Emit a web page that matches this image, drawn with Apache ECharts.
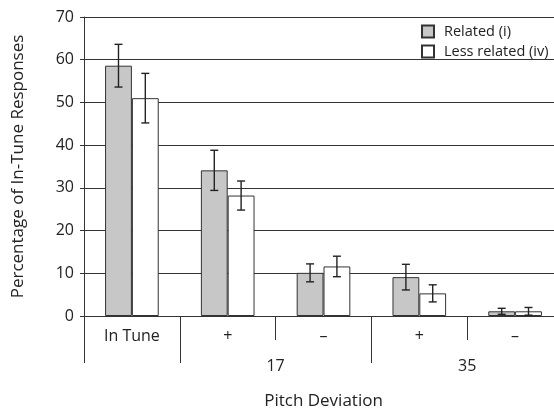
<!DOCTYPE html>
<html>
<head>
<meta charset="utf-8">
<script src="https://cdn.jsdelivr.net/npm/echarts@6/dist/echarts.min.js"></script>
<style>
html,body{margin:0;padding:0;background:#fff;}
#main{width:554px;height:413px;}
</style>
</head>
<body>
<div id="main"></div>
<script>
var categories = ['In Tune', '+', '\u2013', '+', '\u2013'];
var groupLabels = ['', '', '17', '', '35', ''];
var related = [58.6, 34.1, 10.1, 9.1, 1.1];
var relatedErr = [5.0, 4.7, 2.1, 3.0, 0.7];
var lessRelated = [51.0, 28.2, 11.6, 5.3, 1.1];
var lessRelatedErr = [5.8, 3.4, 2.4, 2.0, 0.9];
var yTicks = [0, 10, 20, 30, 40, 50, 60, 70];

var font = 'Open Sans';
var ink = '#333';

// error bar data: [categoryIndex, value, err, side]
function errData(vals, errs, side) {
    return vals.map(function (v, i) { return [i, v, errs[i], side]; });
}

function renderErr(params, api) {
    var i = api.value(0), v = api.value(1), e = api.value(2), side = api.value(3);
    var band = api.size([1, 0])[0];
    var c = api.coord([i, v]);
    var x = c[0] + side * band * 0.14;
    var top = api.coord([i, v + e])[1];
    var bot = api.coord([i, v - e])[1];
    var cap = 4;
    var style = { stroke: '#222', lineWidth: 1.4 };
    return {
        type: 'group',
        children: [
            { type: 'line', shape: { x1: x, y1: top, x2: x, y2: bot }, style: style },
            { type: 'line', shape: { x1: x - cap, y1: top, x2: x + cap, y2: top }, style: style },
            { type: 'line', shape: { x1: x - cap, y1: bot, x2: x + cap, y2: bot }, style: style }
        ]
    };
}

var myChart = echarts.init(document.getElementById('main'));

var option = {
    backgroundColor: '#fff',
    animation: false,
    textStyle: { fontFamily: font },
    legend: {
        orient: 'vertical',
        left: 416,
        top: 19,
        itemWidth: 12,
        itemHeight: 12,
        itemGap: 5,
        icon: 'rect',
        textStyle: { fontFamily: font, fontSize: 14.5, color: '#222', padding: [0, 0, 0, 5] },
        data: ['Related (i)', 'Less related (iv)']
    },
    grid: { left: 84, top: 17, width: 479, height: 299, outerBoundsMode: 'none', containLabel: false },
    xAxis: [
        {
            type: 'category',
            data: categories,
            axisLine: { show: true, lineStyle: { color: ink, width: 1 } },
            axisTick: { show: true, length: 24, lineStyle: { color: ink } },
            axisLabel: { show: true, color: '#222', fontSize: 16, margin: 12, fontFamily: font },
            name: 'Pitch Deviation',
            nameLocation: 'middle',
            nameGap: 77,
            nameTextStyle: { color: '#222', fontSize: 17, fontFamily: font }
        },
        {
            type: 'category',
            data: categories,
            position: 'bottom',
            axisLine: { show: false },
            axisTick: {
                show: true,
                length: 47,
                lineStyle: { color: ink },
                interval: function (i) { return i === 0 || i === 1 || i === 3; }
            },
            axisLabel: { show: false }
        },
        {
            type: 'value',
            min: 0,
            max: 5,
            interval: 1,
            position: 'bottom',
            axisLine: { show: false },
            axisTick: { show: false },
            splitLine: { show: false },
            axisLabel: {
                color: '#222', fontSize: 16, margin: 42, fontFamily: font,
                formatter: function (v) { return groupLabels[v] || ''; }
            }
        }
    ],
    yAxis: {
        type: 'value',
        min: yTicks[0],
        max: yTicks[yTicks.length - 1],
        interval: 10,
        axisLine: { show: true, lineStyle: { color: ink } },
        axisTick: { show: true, length: 4, lineStyle: { color: ink } },
        axisLabel: { color: '#222', fontSize: 16, margin: 10, fontFamily: font },
        splitLine: { lineStyle: { color: ink, width: 1 } },
        name: 'Percentage of In-Tune Responses',
        nameLocation: 'middle',
        nameGap: 57,
        nameTextStyle: { color: '#222', fontSize: 17, fontFamily: font }
    },
    series: [
        {
            name: 'Related (i)',
            type: 'bar',
            data: related,
            barWidth: '28%',
            barGap: '0%',
            itemStyle: { color: '#c6c7c6', borderColor: ink, borderWidth: 1 }
        },
        {
            name: 'Less related (iv)',
            type: 'bar',
            data: lessRelated,
            barWidth: '28%',
            barGap: '0%',
            itemStyle: { color: '#fff', borderColor: ink, borderWidth: 1 }
        },
        {
            type: 'custom',
            renderItem: renderErr,
            data: errData(related, relatedErr, -1),
            encode: { x: 0, y: 1 },
            z: 5
        },
        {
            type: 'custom',
            renderItem: renderErr,
            data: errData(lessRelated, lessRelatedErr, 1),
            encode: { x: 0, y: 1 },
            z: 5
        }
    ]
};

myChart.setOption(option);
window.onresize = myChart.resize;
</script>
</body>
</html>
